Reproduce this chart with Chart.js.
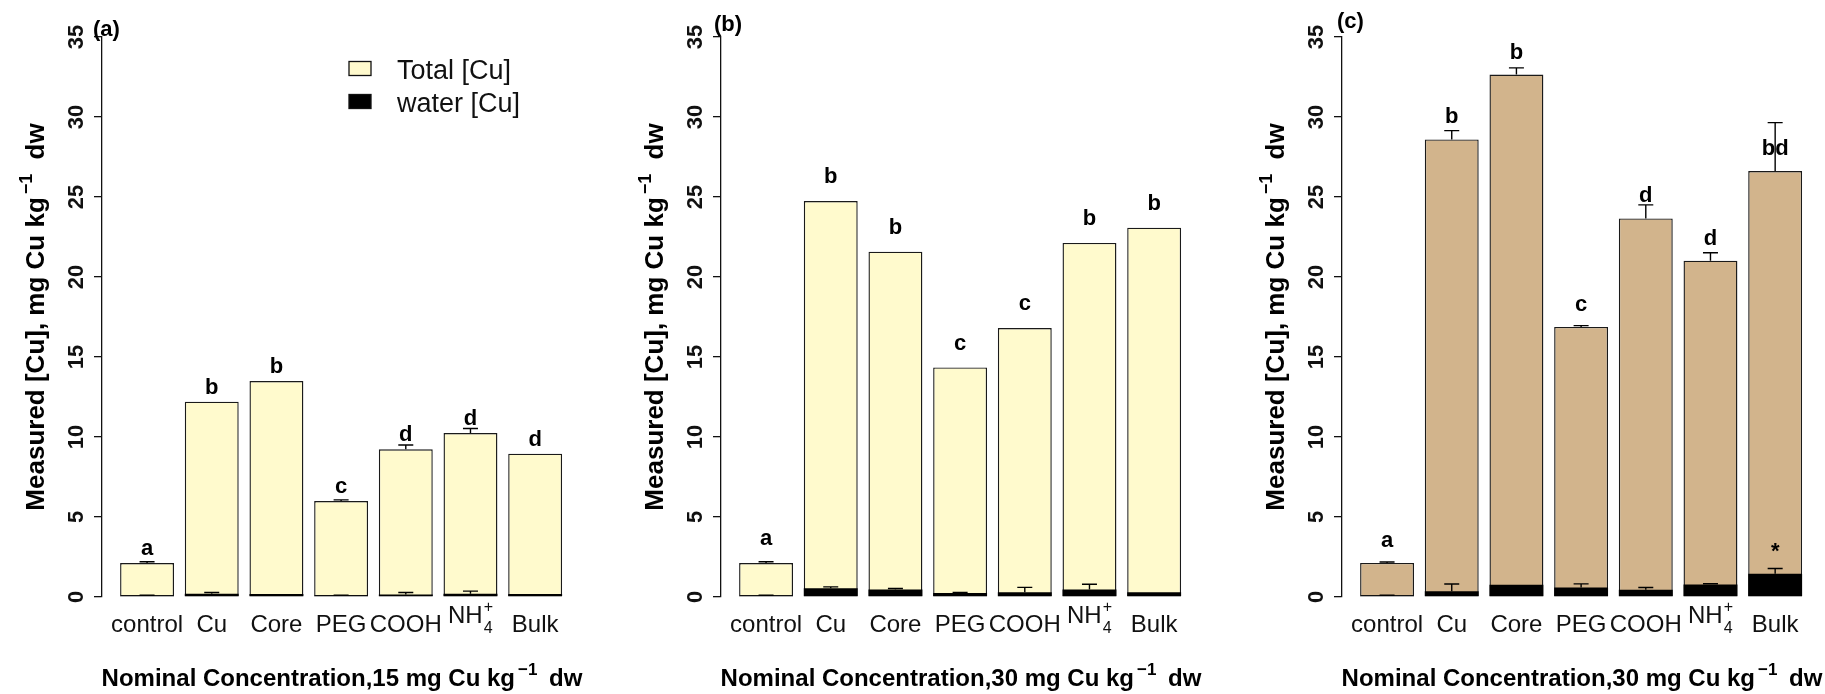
<!DOCTYPE html>
<html>
<head>
<meta charset="utf-8">
<script src="https://cdn.jsdelivr.net/npm/chart.js@4.4.1/dist/chart.umd.min.js"></script>
<style>
  html, body { margin: 0; padding: 0; background: #fff; }
  body { width: 1825px; height: 694px; overflow: hidden; position: relative; }
  .panel { position: absolute; top: 0; width: 620px; height: 694px; }
</style>
</head>
<body>
<div class="panel" style="left:0px"><canvas id="panelA"></canvas></div>
<div class="panel" style="left:619px"><canvas id="panelB"></canvas></div>
<div class="panel" style="left:1240px"><canvas id="panelC"></canvas></div>
<script>
// Treatments on the x axis ("NH4+" is typeset as NH with subscript 4 and superscript +)
const categories = ['control', 'Cu', 'Core', 'PEG', 'COOH', 'NH4+', 'Bulk'];
const yTicks = [0, 5, 10, 15, 20, 25, 30, 35];
const nominalDoses = [15, 30, 30];

// (a) nominal 15 mg Cu/kg
const totalA    = [2.12, 12.21, 13.50, 6.00, 9.23, 10.25, 8.96];
const totalErrA = [0.08, 0, 0, 0.07, 0.27, 0.28, 0];
const waterA    = [0.08, 0.20, 0.19, 0.09, 0.15, 0.20, 0.18];
const waterErrA = [0.03, 0.08, 0, 0.03, 0.13, 0.17, 0];
const lettersA  = ['a', 'b', 'b', 'c', 'd', 'd', 'd'];

// (b) nominal 30 mg Cu/kg
const totalB    = [2.12, 24.75, 21.58, 14.35, 16.81, 22.13, 23.08];
const totalErrB = [0.08, 0, 0, 0, 0, 0, 0];
const waterB    = [0.08, 0.55, 0.47, 0.25, 0.30, 0.47, 0.30];
const waterErrB = [0.03, 0.08, 0.06, 0.03, 0.30, 0.33, 0];
const lettersB  = ['a', 'b', 'b', 'c', 'c', 'b', 'b'];

// (c) nominal 30 mg Cu/kg, second series
const totalC    = [2.13, 28.60, 32.65, 16.88, 23.66, 21.02, 26.62];
const totalErrC = [0.06, 0.55, 0.42, 0.08, 0.85, 0.50, 3.03];
const waterC    = [0.08, 0.36, 0.76, 0.60, 0.45, 0.78, 1.46];
const waterErrC = [0.03, 0.45, 0, 0.22, 0.14, 0.05, 0.32];
const lettersC  = ['a', 'b', 'b', 'c', 'd', 'd', 'bd'];
const waterMarksC = ['', '', '', '', '', '', '*'];

const FONT = '"Liberation Sans", Arial, Helvetica, sans-serif';
const font = (size, bold) => (bold ? 'bold ' : '') + size + 'px ' + FONT;

// bar centres in barplot units: width 1, space 0.2
const centers = categories.map((_, i) => 0.7 + 1.2 * i);

function drawRich(ctx, parts, x, y) {
  let w = 0;
  for (const p of parts) {
    ctx.font = font(p.size, p.bold);
    p.w = ctx.measureText(p.text).width;
    w += p.w + (p.dx || 0);
  }
  let cx = x - w / 2;
  ctx.textAlign = 'left';
  ctx.textBaseline = 'alphabetic';
  for (const p of parts) {
    cx += (p.dx || 0);
    ctx.font = font(p.size, p.bold);
    ctx.fillText(p.text, cx, y + (p.dy || 0));
    cx += p.w;
  }
}

function drawCategory(ctx, label, x, y) {
  ctx.fillStyle = '#111';
  if (label === 'NH4+') {
    ctx.font = font(24, false);
    const wNH = ctx.measureText('NH').width;
    ctx.font = font(16, false);
    const wS = Math.max(ctx.measureText('4').width, ctx.measureText('+').width);
    const left = x - (wNH + 1 + wS) / 2;
    ctx.textAlign = 'left';
    ctx.textBaseline = 'alphabetic';
    ctx.font = font(24, false);
    ctx.fillText('NH', left, y - 9);
    ctx.font = font(16, false);
    ctx.fillText('+', left + wNH + 1, y - 20);
    ctx.fillText('4', left + wNH + 1, y + 1);
  } else {
    ctx.font = font(24, false);
    ctx.textAlign = 'center';
    ctx.textBaseline = 'alphabetic';
    ctx.fillText(label, x, y);
  }
}

const annotations = {
  id: 'annotations',
  afterDraw(chart) {
    const p = chart.$panel;
    const ctx = chart.ctx;
    const xs = chart.scales.x, ys = chart.scales.y;
    const axisX = chart.chartArea.left;
    ctx.save();

    // error bars (upper half only)
    ctx.strokeStyle = '#000';
    ctx.lineWidth = 1.4;
    const cap = 7.5;
    const errBar = (xc, v, e) => {
      if (!e) return;
      const y0 = ys.getPixelForValue(v), y1 = ys.getPixelForValue(v + e);
      ctx.beginPath();
      ctx.moveTo(xc, y0); ctx.lineTo(xc, y1);
      ctx.moveTo(xc - cap, y1); ctx.lineTo(xc + cap, y1);
      ctx.stroke();
    };
    centers.forEach((c, i) => {
      const xc = xs.getPixelForValue(c);
      errBar(xc, p.total[i], p.totalErr[i]);
      errBar(xc, p.water[i], p.waterErr[i]);
    });

    // significance letters
    ctx.fillStyle = '#000';
    ctx.font = font(22, true);
    ctx.textAlign = 'center';
    ctx.textBaseline = 'alphabetic';
    centers.forEach((c, i) => {
      const xc = xs.getPixelForValue(c);
      ctx.fillText(p.letters[i], xc, ys.getPixelForValue(p.total[i] + p.letterGap));
      if (p.marks && p.marks[i]) {
        ctx.fillText(p.marks[i], xc, ys.getPixelForValue(p.water[i] + p.letterGap));
      }
    });

    // category labels
    centers.forEach((c, i) => drawCategory(ctx, categories[i], xs.getPixelForValue(c), 632));

    // y tick labels, parallel to the axis
    ctx.fillStyle = '#111';
    ctx.font = font(22, true);
    ctx.textAlign = 'center';
    ctx.textBaseline = 'alphabetic';
    yTicks.forEach(v => {
      ctx.save();
      ctx.translate(axisX - 19, ys.getPixelForValue(v));
      ctx.rotate(-Math.PI / 2);
      ctx.fillText(String(v), 0, 0);
      ctx.restore();
    });

    // y axis title
    ctx.fillStyle = '#000';
    ctx.save();
    ctx.translate(axisX - 58, 317);
    ctx.rotate(-Math.PI / 2);
    drawRich(ctx, [
      { text: 'Measured [Cu], mg Cu kg', size: 26, bold: true },
      { text: '\u22121', size: 18, bold: true, dy: -12, dx: 3 },
      { text: ' dw', size: 26, bold: true, dx: 7 }
    ], 0, 0);
    ctx.restore();

    // x axis title
    drawRich(ctx, [
      { text: 'Nominal Concentration,' + p.dose + ' mg Cu kg', size: 24, bold: true },
      { text: '\u22121', size: 17, bold: true, dy: -11, dx: 3 },
      { text: ' dw', size: 24, bold: true, dx: 5 }
    ], axisX + 240, 686);

    // panel tag
    ctx.font = font(22, true);
    ctx.textAlign = 'left';
    ctx.fillText(p.tag, axisX + p.tagDx, p.tagY);

    // legend
    if (p.legend) {
      ctx.lineWidth = 1.3;
      ctx.strokeStyle = '#111';
      ctx.fillStyle = p.fill;
      ctx.fillRect(349, 61.5, 22, 14);
      ctx.strokeRect(349, 61.5, 22, 14);
      ctx.fillStyle = '#000';
      ctx.fillRect(349, 94.5, 22, 14);
      ctx.strokeRect(349, 94.5, 22, 14);
      ctx.font = font(27, false);
      ctx.fillStyle = '#111';
      ctx.textAlign = 'left';
      ctx.fillText(chart.data.datasets[1].label, 397, 79);
      ctx.fillText(chart.data.datasets[0].label, 397, 112);
    }
    ctx.restore();
  }
};

const panels = [
  { id: 'panelA', tag: '(a)', tagDx: -9, tagY: 36, fill: '#FFFACD', dose: nominalDoses[0],
    total: totalA, totalErr: totalErrA, water: waterA, waterErr: waterErrA,
    letters: lettersA, marks: null, letterGap: 0.5, legend: true },
  { id: 'panelB', tag: '(b)', tagDx: -7, tagY: 31, fill: '#FFFACD', dose: nominalDoses[1],
    total: totalB, totalErr: totalErrB, water: waterB, waterErr: waterErrB,
    letters: lettersB, marks: null, letterGap: 1.1, legend: false },
  { id: 'panelC', tag: '(c)', tagDx: -5, tagY: 28, fill: '#D2B48C', dose: nominalDoses[2],
    total: totalC, totalErr: totalErrC, water: waterC, waterErr: waterErrC,
    letters: lettersC, marks: waterMarksC, letterGap: 1.0, legend: false }
];

panels.forEach(p => {
  new Chart(document.getElementById(p.id), {
    type: 'bar',
    data: {
      datasets: [
        {
          label: 'water [Cu]',
          data: centers.map((x, i) => ({ x, y: p.water[i] })),
          backgroundColor: '#000', borderColor: '#000', borderWidth: 0,
          order: 0, grouped: false, categoryPercentage: 1, barPercentage: 1 / 1.2
        },
        {
          label: 'Total [Cu]',
          data: centers.map((x, i) => ({ x, y: p.total[i] })),
          backgroundColor: p.fill, borderColor: '#1a1a1a', borderWidth: 1.4, borderSkipped: false,
          order: 1, grouped: false, categoryPercentage: 1, barPercentage: 1 / 1.2
        }
      ]
    },
    options: {
      responsive: true,
      maintainAspectRatio: false,
      animation: false,
      devicePixelRatio: 1,
      layout: { padding: { left: 92, top: 37, right: 29, bottom: 97 } },
      plugins: { legend: { display: false }, tooltip: { enabled: false } },
      scales: {
        x: {
          type: 'linear', min: -0.136, max: 8.936, display: false, offset: false,
          grid: { offset: false },
          afterBuildTicks: s => { s.ticks = centers.map(v => ({ value: v })); }
        },
        y: {
          min: 0, max: 35,
          afterBuildTicks: s => { s.ticks = yTicks.map(v => ({ value: v })); },
          ticks: { display: false },
          grid: { drawOnChartArea: false, drawTicks: true, tickLength: 8, color: '#111', lineWidth: 1.3 },
          border: { display: true, color: '#111', width: 1.3 },
          afterFit: s => { s.width = 10; }
        }
      }
    },
    plugins: [{ id: 'panelRef', beforeInit(c) { c.$panel = p; } }, annotations]
  });
});
</script>
</body>
</html>
